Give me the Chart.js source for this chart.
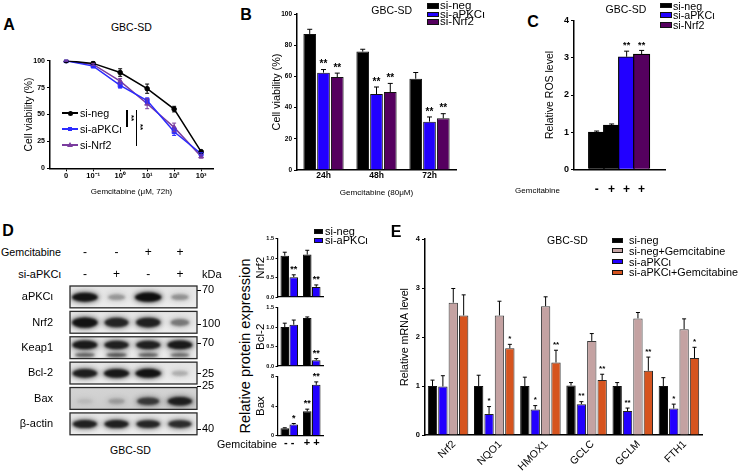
<!DOCTYPE html>
<html>
<head>
<meta charset="utf-8">
<script src="https://cdn.jsdelivr.net/npm/chart.js@4.4.1/dist/chart.umd.min.js"></script>
<style>
html, body { margin: 0; padding: 0; background: #fff; }
#fig { position: relative; width: 738px; height: 473px; overflow: hidden;
       font-family: 'Liberation Sans', Arial, Helvetica, sans-serif; color: #000; }
#fig canvas { position: absolute; }
.t { position: absolute; white-space: nowrap; line-height: 1; }
.sw { position: absolute; box-sizing: border-box; }
</style>
</head>
<body>
<div id="fig">
  <canvas id="cA" width="200" height="147" style="left:23px;top:50px"></canvas>
  <canvas id="cB" width="187" height="194" style="left:271px;top:4px"></canvas>
  <canvas id="cC" width="123" height="190" style="left:544px;top:10px"></canvas>
  <canvas id="cBlot" width="227" height="159" style="left:0px;top:280px"></canvas>
  <canvas id="cNrf2" width="71" height="67" style="left:254px;top:232px"></canvas>
  <canvas id="cBcl2" width="71" height="67" style="left:254px;top:301px"></canvas>
  <canvas id="cBax" width="71" height="82" style="left:254px;top:370px"></canvas>
  <canvas id="cE" width="305" height="244" style="left:399px;top:229px"></canvas>
</div>
<script>
// ---- data ----
// A: viability vs gemcitabine dose (72h)
const doseTicks = ['0', '10⁻¹', '10⁰', '10¹', '10²', '10³'];
const viabNeg = [100, 97.5, 89, 74, 55, 15.5];
const viabNegErr = [0.5, 1, 3.5, 4.3, 2.6, 1];
const viabAPKC = [100, 95, 77, 63, 34, 13.5];
const viabAPKCErr = [0.5, 1, 2.5, 2.5, 3.5, 1];
const viabNrf2 = [100, 96.5, 81, 60, 38, 11];
const viabNrf2Err = [0.5, 1, 2.5, 4.6, 4, 1.5];

// B: viability at 80uM
const timeLabels = ['24h', '48h', '72h'];
const bNeg = [87.2, 75.9, 58.5];
const bNegErr = [3, 1.5, 4];
const bAPKC = [62.4, 48.7, 31];
const bAPKCErr = [2, 4.5, 3];
const bNrf2 = [59.6, 50, 33.1];
const bNrf2Err = [2.5, 5.5, 3];
const bStars = ['**', '**', '**'];

// C: ROS
const rosGem = ['-', '+', '+', '+'];
const rosGroup = ['si-neg', 'si-neg', 'si-aPKCι', 'si-Nrf2'];
const rosVals = [1.0, 1.19, 3.03, 3.10];
const rosErr = [0.03, 0.03, 0.15, 0.1];
const rosStars = ['', '', '**', '**'];

// D: western blot
const blotRows = ['aPKCι', 'Nrf2', 'Keap1', 'Bcl-2', 'Bax', 'β-actin'];
const blotBands = [
  [0.95, 0.28, 1.0, 0.3],
  [0.95, 0.82, 0.85, 0.4],
  [0.9, 0.85, 0.85, 0.9],
  [0.88, 0.92, 0.95, 0.2],
  [0.08, 0.2, 0.68, 0.85],
  [0.85, 0.85, 0.82, 0.78]
];
const keap1Lower = [0.5, 0.55, 0.5, 0.45];
const kdaLabels = ['70', '100', '70', '25', '25', '40'];
const kdaRows = [-0.28, 1.06, 1.81, 3.02, 3.5, 5.21];
const gemSigns = ['-', '-', '+', '+'];
const siSigns = ['-', '+', '-', '+'];

// D: quantification
const wbGroups = ['- -', '+ +'];
const nrf2Neg = [1.06, 1.09], nrf2NegErr = [0.09, 0.11];
const nrf2APKC = [0.51, 0.26], nrf2APKCErr = [0.06, 0.05];
const bcl2Neg = [1.0, 1.23], bcl2NegErr = [0.1, 0.03];
const bcl2APKC = [1.06, 0.15], bcl2APKCErr = [0.12, 0.04];
const baxNeg = [1.0, 3.28], baxNegErr = [0.05, 0.3];
const baxAPKC = [1.48, 6.88], baxAPKCErr = [0.15, 0.4];

// E: mRNA
const genes = ['Nrf2', 'NQO1', 'HMOX1', 'GCLC', 'GCLM', 'FTH1'];
const eNeg = [1.0, 1.0, 1.0, 1.01, 1.0, 1.0];
const eNegErr = [0.12, 0.22, 0.18, 0.06, 0.07, 0.17];
const eAPKC = [0.99, 0.43, 0.52, 0.63, 0.49, 0.54];
const eAPKCErr = [0.22, 0.15, 0.08, 0.05, 0.06, 0.09];
const eNegGem = [2.70, 2.44, 2.63, 1.92, 2.38, 2.16];
const eNegGemErr = [0.29, 0.29, 0.19, 0.15, 0.12, 0.21];
const eAPKCGem = [2.44, 1.77, 1.48, 1.12, 1.31, 1.57];
const eAPKCGemErr = [0.42, 0.08, 0.25, 0.12, 0.28, 0.22];
const eAPKCStars = ['', '*', '*', '**', '**', '*'];
const eAPKCGemStars = ['', '*', '**', '**', '**', '*'];

// ---- colours ----
const BLACK = '#000000', BLUE = '#2200ff', PURPLE = '#55005f', PINK = '#c4a2a2', ORANGE = '#d6541f';
const BLUE_A = '#2b2bff', PURPLE_A = '#7a3c9e';

const FONT = "'Liberation Sans', Arial, Helvetica, sans-serif";
Chart.defaults.font.family = FONT;
Chart.defaults.color = '#000';
Chart.defaults.animation = false;
Chart.defaults.plugins.legend.display = false;
Chart.defaults.plugins.tooltip.enabled = false;

const fig = document.getElementById('fig');

// text centred on (x, y); vertical text uses writing-mode so the box itself is tall
function put(text, x, y, size, o = {}) {
  const d = document.createElement('div');
  d.className = 't';
  d.textContent = text;
  d.style.left = x + 'px';
  d.style.top = y + 'px';
  d.style.fontSize = size + 'px';
  if (o.bold) d.style.fontWeight = 'bold';
  const ax = o.align === 'left' ? '0' : o.align === 'right' ? '-100%' : '-50%';
  let tf = 'translate(' + ax + ',-50%)';
  if (o.rot) {
    d.style.writingMode = 'vertical-rl';
    if (o.rot < 0) tf += ' rotate(180deg)';
  }
  d.style.transform = tf;
  fig.appendChild(d);
}
function box(x, y, w, h, css) {
  const d = document.createElement('div');
  d.className = 'sw';
  d.style.left = x + 'px'; d.style.top = y + 'px';
  d.style.width = w + 'px'; d.style.height = h + 'px';
  Object.assign(d.style, css);
  fig.appendChild(d);
}

// fixes the size of an axis box so the plot areas land where the figure has them
function fit(w, h) {
  return s => {
    if (w !== undefined) s.width = w;
    if (h !== undefined) s.height = h;
    s.paddingLeft = s.paddingRight = s.paddingTop = s.paddingBottom = 0;
  };
}
const axisBorder = { display: true, color: '#000', width: 1.5 };
const tickGrid = len => ({ display: true, drawOnChartArea: false, drawTicks: true, tickLength: len, color: '#000', lineWidth: 1 });
const noGrid = { display: false, drawTicks: false };
const axTitle = (text, size) => ({ display: true, text: text, font: { size: size }, padding: 0, color: '#000' });

// error bars + significance marks drawn with the chart's own scales
const errorBars = {
  id: 'errorBars',
  afterDatasetsDraw(chart) {
    const ctx = chart.ctx;
    chart.data.datasets.forEach((ds, i) => {
      if (!ds.errors) return;
      const meta = chart.getDatasetMeta(i);
      const ys = chart.scales[meta.yAxisID];
      const cap = ds.capWidth || 4;
      ctx.save();
      ctx.strokeStyle = ds.errorColor || '#000';
      ctx.lineWidth = ds.errorWidth || 1;
      meta.data.forEach((el, j) => {
        const raw = ds.data[j];
        const v = typeof raw === 'object' ? raw.y : raw;
        const e = ds.errors[j];
        const yTop = ys.getPixelForValue(v + e);
        const yBot = ys.getPixelForValue(ds.errorBoth ? v - e : v);
        ctx.beginPath();
        ctx.moveTo(el.x, yBot); ctx.lineTo(el.x, yTop);
        ctx.moveTo(el.x - cap / 2, yTop); ctx.lineTo(el.x + cap / 2, yTop);
        if (ds.errorBoth) { ctx.moveTo(el.x - cap / 2, yBot); ctx.lineTo(el.x + cap / 2, yBot); }
        ctx.stroke();
        if (ds.stars && ds.stars[j]) {
          const fs = ds.starSize || 9;
          ctx.fillStyle = '#000';
          ctx.font = 'bold ' + fs + 'px ' + FONT;
          ctx.textAlign = 'center';
          ctx.textBaseline = 'alphabetic';
          ctx.fillText(ds.stars[j], el.x, yTop - 8 + 0.58 * fs);
        }
      });
      ctx.restore();
    });
  }
};

// ---- A ----
function lineSet(name, vals, errs, color, style, r) {
  return {
    label: name, data: vals.map((v, i) => ({ x: i, y: v })),
    borderColor: color, backgroundColor: color, borderWidth: 1.5,
    pointStyle: style, pointRadius: r, pointBorderWidth: 1,
    errors: errs, errorBoth: true, errorColor: color, capWidth: 4
  };
}
const dsA = [
  lineSet('si-neg', viabNeg, viabNegErr, BLACK, 'circle', 2.3),
  lineSet('si-aPKCι', viabAPKC, viabAPKCErr, BLUE_A, 'rect', 2.8),
  lineSet('si-Nrf2', viabNrf2, viabNrf2Err, PURPLE_A, 'triangle', 2.8)
];
new Chart(document.getElementById('cA'), {
  type: 'line',
  data: { datasets: dsA },
  options: {
    responsive: false,
    layout: { padding: { top: 10.7, right: 10, bottom: 0, left: 0 } },
    scales: {
      x: {
        type: 'linear', min: -0.6, max: 5.44,
        afterBuildTicks: s => { s.ticks = doseTicks.map((_, i) => ({ value: i })); },
        ticks: { callback: v => doseTicks[v], font: { size: 7.5, weight: 'bold' }, padding: 0, maxRotation: 0, autoSkip: false },
        grid: tickGrid(3), border: axisBorder,
        title: axTitle('Gemcitabine (μM, 72h)', 8),
        afterFit: fit(undefined, 28.7)
      },
      y: {
        min: 0, max: 100,
        ticks: { stepSize: 25, font: { size: 7, weight: 'bold' }, padding: 2 },
        grid: tickGrid(3), border: axisBorder,
        title: axTitle('Cell viability (%)', 10.4),
        afterFit: fit(27)
      }
    }
  },
  plugins: [errorBars]
});
// in-plot legend of A
const legA = [[113, 'circle'], [129, 'rect'], [145, 'triangle']];
dsA.forEach((ds, i) => {
  const y = legA[i][0], c = ds.borderColor;
  box(62, y - 0.75, 16, 1.5, { background: c });
  if (legA[i][1] === 'circle') box(67.5, y - 2.5, 5, 5, { background: c, borderRadius: '50%' });
  else if (legA[i][1] === 'rect') box(67.5, y - 2.2, 4.4, 4.4, { background: c });
  else box(67, y - 3, 0, 0, { borderLeft: '3px solid transparent', borderRight: '3px solid transparent', borderBottom: '5px solid ' + c });
  put(ds.label, 80, y, 10.7, { align: 'left' });
});
box(126.3, 110, 1.3, 17, { background: '#000' });
box(135.5, 110, 1.3, 36, { background: '#000' });
put('**', 131, 118, 8, { bold: true, rot: 90 });
put('**', 140, 127, 8, { bold: true, rot: 90 });

// ---- B ----
function barSet(name, vals, errs, color, stars, extra) {
  return Object.assign({
    label: name, data: vals, backgroundColor: color, borderColor: '#111', borderWidth: 1,
    errors: errs, stars: stars, capWidth: 5
  }, extra || {});
}
new Chart(document.getElementById('cB'), {
  type: 'bar',
  data: {
    labels: timeLabels,
    datasets: [
      barSet('si-neg', bNeg, bNegErr, BLACK, null, { starSize: 10 }),
      barSet('si-aPKCι', bAPKC, bAPKCErr, BLUE, bStars, { starSize: 10 }),
      barSet('si-Nrf2', bNrf2, bNrf2Err, PURPLE, bStars, { starSize: 10 })
    ]
  },
  options: {
    responsive: false,
    datasets: { bar: { categoryPercentage: 0.78, barPercentage: 0.92 } },
    layout: { padding: { top: 10, right: 2, bottom: 0, left: 0 } },
    scales: {
      x: {
        grid: noGrid, border: axisBorder,
        ticks: { font: { size: 8.5, weight: 'bold' }, padding: 1 },
        title: axTitle('Gemcitabine (80μM)', 8.1),
        afterFit: fit(undefined, 28)
      },
      y: {
        min: 0, max: 100,
        ticks: { stepSize: 20, font: { size: 6.5, weight: 'bold' }, padding: 2 },
        grid: tickGrid(3), border: axisBorder,
        title: axTitle('Cell viability (%)', 10.8),
        afterFit: fit(26)
      }
    }
  },
  plugins: [errorBars]
});

// ---- C ----
const rosColors = { 'si-neg': BLACK, 'si-aPKCι': BLUE, 'si-Nrf2': PURPLE };
new Chart(document.getElementById('cC'), {
  type: 'bar',
  data: {
    datasets: [{
      label: 'ROS', data: rosVals.map((v, i) => ({ x: i, y: v })),
      backgroundColor: rosGroup.map(g => rosColors[g]), borderColor: '#000', borderWidth: 1.2,
      barThickness: 16.5, errors: rosErr, stars: rosStars, capWidth: 5, starSize: 9
    }]
  },
  options: {
    responsive: false,
    layout: { padding: { top: 10.7, right: 2, bottom: 0, left: 0 } },
    scales: {
      x: {
        type: 'linear', min: -0.75, max: 3.8,
        afterBuildTicks: s => { s.ticks = rosGem.map((_, i) => ({ value: i })); },
        ticks: { callback: v => rosGem[v], font: { size: 12, weight: 'bold' }, padding: 13.5, maxRotation: 0, autoSkip: false },
        grid: noGrid, border: axisBorder,
        afterFit: fit(undefined, 30.7)
      },
      y: {
        min: 0, max: 4,
        ticks: { stepSize: 1, font: { size: 9, weight: 'bold' }, padding: 2 },
        grid: tickGrid(3), border: axisBorder,
        title: axTitle('Relative ROS level', 10.5),
        afterFit: fit(30)
      }
    }
  },
  plugins: [errorBars]
});

// ---- D: blot ----
const bandShift = [0, 0, -0.12, 0, 0.1, 0];
const bandThick = [1, 1.15, 1, 1, 1, 0.95];
const blotPlugin = {
  id: 'blot',
  beforeDatasetsDraw(chart) {
    const { ctx, chartArea: a, scales: { y } } = chart;
    const rowTop = r => y.getPixelForValue(r - 0.44);
    const rowBot = r => y.getPixelForValue(r + 0.42);
    ctx.save();
    blotRows.forEach((_, r) => {
      const t = rowTop(r), b = rowBot(r);
      const g = ctx.createLinearGradient(0, t, 0, b);
      g.addColorStop(0, r === 4 ? '#d4d4d4' : '#e4e4e4');
      g.addColorStop(1, r === 4 ? '#cbcbcb' : '#ededed');
      ctx.fillStyle = g;
      ctx.fillRect(a.left, t, a.right - a.left, b - t);
    });
    chart.data.datasets.forEach((ds, di) => {
      const meta = chart.getDatasetMeta(di);
      meta.data.forEach((el, k) => {
        const v = ds.intensity[k];
        if (!v) return;
        const r = ds.rows[k];
        const t = rowTop(r), b = rowBot(r);
        const hw = (7 + 6 * v) * (ds.widthScale || 1), hh = (2.2 + 2.4 * v) * bandThick[r] * (ds.heightScale || 1);
        ctx.save();
        ctx.beginPath(); ctx.rect(a.left, t, a.right - a.left, b - t); ctx.clip();
        ctx.filter = 'blur(2.4px)';
        ctx.fillStyle = 'rgba(20,20,20,' + (0.55 * v) + ')';
        ctx.beginPath(); ctx.ellipse(el.x, el.y, hw + 2, hh + 1.5, 0, 0, Math.PI * 2); ctx.fill();
        ctx.filter = 'blur(1.2px)';
        ctx.fillStyle = 'rgba(8,8,8,' + Math.min(1, v * 0.95) + ')';
        ctx.beginPath(); ctx.ellipse(el.x, el.y, hw, hh, 0, 0, Math.PI * 2); ctx.fill();
        ctx.restore();
      });
    });
    ctx.strokeStyle = '#2a2a2a';
    ctx.lineWidth = 1.3;
    blotRows.forEach((_, r) => {
      const t = rowTop(r), b = rowBot(r);
      ctx.strokeRect(a.left, t, a.right - a.left, b - t);
    });
    ctx.restore();
  }
};
const blot = new Chart(document.getElementById('cBlot'), {
  type: 'scatter',
  data: {
    datasets: [
      {
        label: 'bands',
        data: blotRows.flatMap((_, r) => blotBands[r].map((v, l) => ({ x: l + 1, y: r + bandShift[r] }))),
        intensity: blotBands.flat(),
        rows: blotRows.flatMap((_, r) => blotBands[r].map(() => r)),
        pointRadius: 0
      },
      {
        label: 'Keap1 lower',
        data: keap1Lower.map((v, l) => ({ x: l + 1, y: 2.28 })),
        intensity: keap1Lower,
        rows: keap1Lower.map(() => 2),
        heightScale: 0.6,
        pointRadius: 0
      }
    ]
  },
  options: {
    responsive: false,
    layout: { padding: { top: 6, right: 0, bottom: 4, left: 0 } },
    scales: {
      x: { type: 'linear', min: 0.53, max: 4.54, display: false },
      y: {
        type: 'linear', reverse: true, min: -0.44, max: 5.43,
        afterBuildTicks: s => { s.ticks = blotRows.map((_, i) => ({ value: i })); },
        ticks: { callback: v => blotRows[v], font: { size: 11 }, padding: 9, autoSkip: false },
        grid: { display: false }, border: { display: false },
        afterFit: fit(70)
      },
      y2: {
        type: 'linear', position: 'right', reverse: true, min: -0.44, max: 5.43,
        afterBuildTicks: s => { s.ticks = kdaRows.map(v => ({ value: v })); },
        ticks: { callback: (v, i) => kdaLabels[i], font: { size: 11 }, padding: 1, autoSkip: false },
        grid: { display: true, drawOnChartArea: false, drawTicks: true, tickLength: 4, color: '#000', lineWidth: 1 },
        border: { display: false },
        afterFit: fit(30)
      }
    }
  },
  plugins: [blotPlugin]
});
const laneX = blot.scales.x;
put('Gemcitabine', 61, 252, 10.7, { align: 'right' });
put('si-aPKCι', 61, 274, 11, { align: 'right' });
gemSigns.forEach((s, i) => put(s, laneX.getPixelForValue(i + 1), 252, 12));
siSigns.forEach((s, i) => put(s, laneX.getPixelForValue(i + 1), 274, 12));
put('kDa', 202, 274, 11, { align: 'left' });
put('GBC-SD', 130.5, 450, 10.5);

// ---- D: quantification ----
function wbChart(id, title, neg, negErr, apkc, apkcErr, starsNeg, starsAPKC, max, step, dec, withLabels) {
  return new Chart(document.getElementById(id), {
    type: 'bar',
    data: {
      labels: wbGroups,
      datasets: [
        barSet('si-neg', neg, negErr, BLACK, starsNeg, { capWidth: 4, starSize: 9 }),
        barSet('si-aPKCι', apkc, apkcErr, BLUE, starsAPKC, { capWidth: 4, starSize: 9 })
      ]
    },
    options: {
      responsive: false,
      datasets: { bar: { categoryPercentage: 0.8, barPercentage: 0.95 } },
      layout: { padding: { top: 6.6, right: 2, bottom: 0, left: 0 } },
      scales: {
        x: {
          grid: noGrid, border: { display: true, color: '#000', width: 1.2 },
          ticks: { display: withLabels, font: { size: 11, weight: 'bold' }, padding: 1.3 },
          afterFit: fit(undefined, withLabels ? 16.5 : 2)
        },
        y: {
          min: 0, max: max,
          ticks: { stepSize: step, font: { size: 5.5, weight: 'bold' }, padding: 1.5, callback: v => v.toFixed(dec) },
          grid: tickGrid(2.5), border: { display: true, color: '#000', width: 1.2 },
          title: axTitle(title, 11.5),
          afterFit: fit(24)
        }
      }
    },
    plugins: [errorBars]
  });
}
wbChart('cNrf2', 'Nrf2', nrf2Neg, nrf2NegErr, nrf2APKC, nrf2APKCErr, null, ['**', '**'], 1.5, 0.5, 1, false);
wbChart('cBcl2', 'Bcl-2', bcl2Neg, bcl2NegErr, bcl2APKC, bcl2APKCErr, null, ['', '**'], 1.5, 0.5, 1, false);
wbChart('cBax', 'Bax', baxNeg, baxNegErr, baxAPKC, baxAPKCErr, ['', '**'], ['*', '**'], 8, 4, 0, true);
put('Relative protein expression', 245, 345.5, 14.5, { rot: -90 });
put('Gemcitabine', 277, 444, 10.7, { align: 'right' });

// ---- E ----
new Chart(document.getElementById('cE'), {
  type: 'bar',
  data: {
    labels: genes,
    datasets: [
      barSet('si-neg', eNeg, eNegErr, BLACK, null, { borderColor: '#111', capWidth: 4 }),
      barSet('si-aPKCι', eAPKC, eAPKCErr, BLUE, eAPKCStars, { borderColor: '#222', capWidth: 4, starSize: 8 }),
      barSet('si-neg+Gemcitabine', eNegGem, eNegGemErr, PINK, null, { borderColor: '#3a3a3a', capWidth: 4 }),
      barSet('si-aPKCι+Gemcitabine', eAPKCGem, eAPKCGemErr, ORANGE, eAPKCGemStars, { borderColor: '#2a2a2a', capWidth: 4, starSize: 8 })
    ]
  },
  options: {
    responsive: false,
    datasets: { bar: { categoryPercentage: 0.9, barPercentage: 0.9 } },
    layout: { padding: { top: 10, right: 2, bottom: 0, left: 0 } },
    scales: {
      x: {
        grid: noGrid, border: axisBorder,
        ticks: { font: { size: 10.5 }, minRotation: 45, maxRotation: 45, padding: 3, labelOffset: 6, autoSkip: false },
        afterFit: fit(undefined, 38)
      },
      y: {
        min: 0, max: 4,
        ticks: { stepSize: 1, font: { size: 7.5, weight: 'bold' }, padding: 2 },
        grid: tickGrid(3), border: axisBorder,
        title: axTitle('Relative mRNA level', 10.7),
        afterFit: fit(26)
      }
    }
  },
  plugins: [errorBars]
});

// ---- titles, letters, legends ----
put('A', 9, 24.5, 16, { bold: true });
put('B', 246, 14.7, 16, { bold: true });
put('C', 533, 21.7, 16, { bold: true });
put('D', 8, 231, 16, { bold: true });
put('E', 396, 231.7, 16, { bold: true });
put('GBC-SD', 131.3, 26.7, 10.5);
put('GBC-SD', 391.7, 10, 10.5);
put('GBC-SD', 626, 9.2, 10.5);
put('GBC-SD', 567.5, 240, 10.5);
put('Gemcitabine', 537.5, 190.5, 8);

function legend(items, x, ys, w, h, tx, size) {
  items.forEach((it, i) => {
    box(x, ys[i] - h / 2, w, h, { background: it[1], border: '1px solid #111' });
    put(it[0], tx, ys[i], size, { align: 'left' });
  });
}
legend([['si-neg', BLACK], ['si-aPKCι', BLUE], ['si-Nrf2', PURPLE]], 427, [6.3, 14.5, 22.2], 12, 5.7, 440, 11.5);
legend([['si-neg', BLACK], ['si-aPKCι', BLUE], ['si-Nrf2', PURPLE]], 660, [5.5, 15, 25], 12, 5.5, 673, 10.7);
legend([['si-neg', BLACK], ['si-aPKCι', BLUE]], 314, [231.2, 240], 9.3, 5, 325, 11);
legend([['si-neg', BLACK], ['si-neg+Gemcitabine', PINK], ['si-aPKCι', BLUE], ['si-aPKCι+Gemcitabine', ORANGE]],
  611.7, [240, 250.6, 261.5, 272.3], 11.7, 5, 629, 10.8);
</script>
</body>
</html>
